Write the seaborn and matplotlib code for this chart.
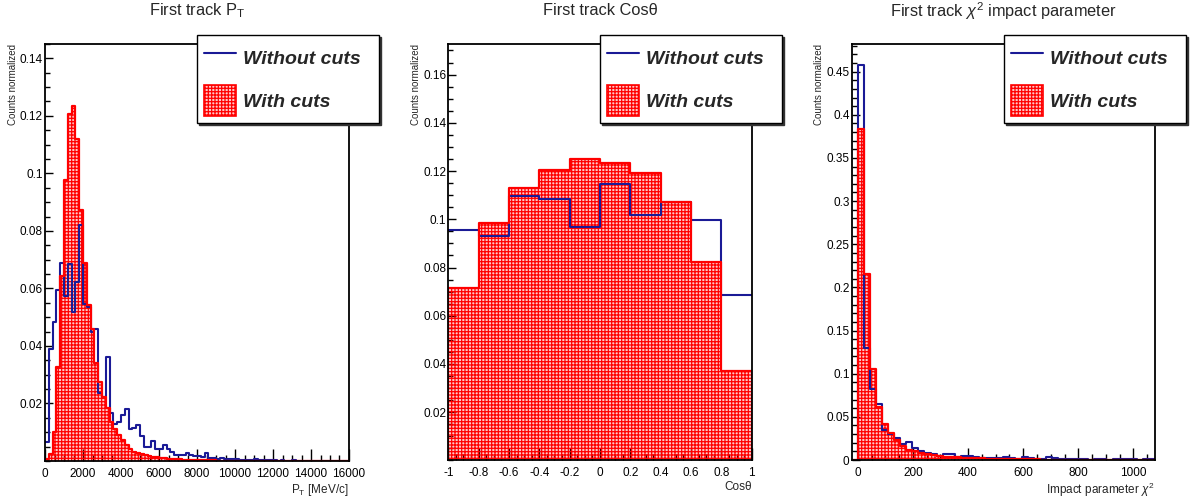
import numpy as np
import pandas as pd
import matplotlib
matplotlib.use("Agg")
import matplotlib.pyplot as plt
from matplotlib.lines import Line2D
from matplotlib.patches import Patch
from matplotlib.ticker import MultipleLocator
import seaborn as sns

# ---------------- data ----------------
pt_edges = np.arange(0, 16001, 200)
pt_without = [
    0.0067, 0.0388, 0.0482, 0.0594, 0.0687, 0.0573, 0.0684, 0.0519, 0.0621, 0.0819,
    0.0546, 0.0536, 0.0449, 0.0460, 0.0237, 0.0221, 0.0362, 0.0165, 0.0128, 0.0136,
    0.0160, 0.0179, 0.0110, 0.0116, 0.0125, 0.0087, 0.0047, 0.0047, 0.0070, 0.0042,
    0.0040, 0.0055, 0.0042, 0.0032, 0.0022, 0.0020, 0.0020, 0.0027, 0.0020, 0.0018,
    0.0016, 0.0015, 0.0026, 0.0010, 0.0009, 0.0008, 0.0011, 0.0006, 0.0005, 0.0005,
    0.0007, 0.0004, 0.0004, 0.0003, 0.0004, 0.0005, 0.0003, 0.0002, 0.0002, 0.0003,
    0.0002, 0.0001, 0.0002, 0.0001, 0.0001, 0.0002, 0.0001, 0.0001, 0.0001, 0.0001,
    0.0001, 0.0001, 0.0001, 0.0000, 0.0001, 0.0000, 0.0001, 0.0000, 0.0000, 0.0000,
]
pt_with = [
    0.0005, 0.0025, 0.0099, 0.0327, 0.0643, 0.0976, 0.1208, 0.1233, 0.1118, 0.0874,
    0.0687, 0.0541, 0.0460, 0.0339, 0.0275, 0.0223, 0.0183, 0.0136, 0.0110, 0.0090,
    0.0073, 0.0055, 0.0041, 0.0032, 0.0028, 0.0024, 0.0020, 0.0017, 0.0015, 0.0012,
    0.0010, 0.0009, 0.0008, 0.0007, 0.0006, 0.0005, 0.0004, 0.0004, 0.0003, 0.0003,
    0.0003, 0.0002, 0.0002, 0.0002, 0.0002, 0.0001, 0.0001, 0.0001, 0.0001, 0.0001,
    0.0001, 0.0001, 0.0001, 0.0001, 0.0000, 0.0001, 0.0000, 0.0000, 0.0000, 0.0000,
    0.0000, 0.0000, 0.0000, 0.0000, 0.0000, 0.0000, 0.0000, 0.0000, 0.0000, 0.0000,
    0.0000, 0.0000, 0.0000, 0.0000, 0.0000, 0.0000, 0.0000, 0.0000, 0.0000, 0.0000,
]

cos_edges = np.linspace(-1, 1, 11)
cos_without = [0.0955, 0.0932, 0.1097, 0.1084, 0.0969, 0.1147, 0.1019, 0.1073, 0.0999, 0.0687]
cos_with = [0.0716, 0.0985, 0.1129, 0.1204, 0.1249, 0.1233, 0.1193, 0.1073, 0.0824, 0.0370]

ip_edges = np.arange(-22, 1079, 22)
ip_without = [
    0.0, 0.458, 0.130, 0.082, 0.065, 0.035, 0.030, 0.026, 0.019, 0.021,
    0.014, 0.011, 0.0085, 0.0070, 0.0050, 0.0068, 0.0068, 0.0040, 0.0050, 0.0045,
    0.0030, 0.0025, 0.0025, 0.0020, 0.0022, 0.0030, 0.0018, 0.0015, 0.0030, 0.0025,
    0.0012, 0.0012, 0.0040, 0.0020, 0.0010, 0.0008, 0.0010, 0.0012, 0.0008, 0.0006,
    0.0012, 0.0010, 0.0006, 0.0008, 0.0008, 0.0012, 0.0010, 0.0006, 0.0008, 0.0010,
]
ip_with = [
    0.0, 0.383, 0.215, 0.105, 0.062, 0.042, 0.031, 0.023, 0.016, 0.012,
    0.0100, 0.0080, 0.0065, 0.0058, 0.0046, 0.0040, 0.0039, 0.0030, 0.0026, 0.0022,
    0.0020, 0.0018, 0.0015, 0.0014, 0.0012, 0.0011, 0.0010, 0.0009, 0.0008, 0.0008,
    0.0007, 0.0006, 0.0006, 0.0005, 0.0005, 0.0005, 0.0004, 0.0004, 0.0004, 0.0004,
    0.0003, 0.0003, 0.0003, 0.0003, 0.0003, 0.0003, 0.0003, 0.0003, 0.0003, 0.0003,
]

titles = [r"First track P$_\mathrm{T}$", "First track Cosθ",
          r"First track $\chi^{2}$ impact parameter"]
xlabels = [r"P$_\mathrm{T}$ [MeV/c]", "Cosθ", r"Impact parameter $\chi^{2}$"]
ylabel = "Counts normalized"
legend_labels = ["Without cuts", "With cuts"]

pt_xticks = [0, 2000, 4000, 6000, 8000, 10000, 12000, 14000, 16000]
pt_xticklabels = ["0", "2000", "4000", "6000", "8000", "10000", "12000", "14000", "16000"]
pt_yticks = [0.02, 0.04, 0.06, 0.08, 0.10, 0.12, 0.14]
pt_yticklabels = ["0.02", "0.04", "0.06", "0.08", "0.1", "0.12", "0.14"]

cos_xticks = [-1, -0.8, -0.6, -0.4, -0.2, 0, 0.2, 0.4, 0.6, 0.8, 1]
cos_xticklabels = ["-1", "-0.8", "-0.6", "-0.4", "-0.2", "0", "0.2", "0.4", "0.6", "0.8", "1"]
cos_yticks = [0.02, 0.04, 0.06, 0.08, 0.10, 0.12, 0.14, 0.16]
cos_yticklabels = ["0.02", "0.04", "0.06", "0.08", "0.1", "0.12", "0.14", "0.16"]

ip_xticks = [0, 200, 400, 600, 800, 1000]
ip_xticklabels = ["0", "200", "400", "600", "800", "1000"]
ip_yticks = [0, 0.05, 0.10, 0.15, 0.20, 0.25, 0.30, 0.35, 0.40, 0.45]
ip_yticklabels = ["0", "0.05", "0.1", "0.15", "0.2", "0.25", "0.3", "0.35", "0.4", "0.45"]

# ---------------- style ----------------
sns.set_style("white")
plt.rcParams["font.family"] = ["Liberation Sans", "DejaVu Sans"]
plt.rcParams["mathtext.fontset"] = "custom"
plt.rcParams["mathtext.rm"] = "Liberation Sans"
plt.rcParams["mathtext.it"] = "Liberation Sans:italic"
plt.rcParams["hatch.linewidth"] = 0.9
plt.rcParams["hatch.color"] = "red"

BLUE = "#1a1a96"
RED = "#ff0000"
HATCH = "+++++"
PINK_FACE = (1.0, 0.0, 0.0, 0.22)

fig = plt.figure(figsize=(11.95, 5.01), dpi=100)

panels = [
    dict(rect=[0.03766, 0.0800, 0.25439, 0.8322], edges=pt_edges, wo=pt_without, w=pt_with,
         xlim=(0, 16000), ylim=(0, 0.145), xt=pt_xticks, xtl=pt_xticklabels,
         yt=pt_yticks, ytl=pt_yticklabels, xminor=500, yminor=0.005, legx=0.1649),
    dict(rect=[0.37515, 0.0810, 0.25389, 0.8312], edges=cos_edges, wo=cos_without, w=cos_with,
         xlim=(-1, 1), ylim=(0, 0.1727), xt=cos_xticks, xtl=cos_xticklabels,
         yt=cos_yticks, ytl=cos_yticklabels, xminor=0.05, yminor=0.005, legx=0.5021),
    dict(rect=[0.71272, 0.0818, 0.25381, 0.8303], edges=ip_edges, wo=ip_without, w=ip_with,
         xlim=(-22, 1078), ylim=(0, 0.482), xt=ip_xticks, xtl=ip_xticklabels,
         yt=ip_yticks, ytl=ip_yticklabels, xminor=50, yminor=0.01, legx=0.8402),
]

for i, p in enumerate(panels):
    ax = fig.add_axes(p["rect"])
    edges = [float(e) for e in p["edges"]]
    centers = [(a + b) / 2 for a, b in zip(edges[:-1], edges[1:])]
    df = pd.DataFrame({"x": centers, "without": p["wo"], "with": p["w"]})

    sns.histplot(data=df, x="x", weights="without", bins=edges, element="step", fill=False,
                 color=BLUE, linewidth=1.5, ax=ax)
    n_before = len(ax.collections)
    sns.histplot(data=df, x="x", weights="with", bins=edges, element="step", fill=True,
                 color=RED, alpha=1, linewidth=0, ax=ax)
    for coll in ax.collections[n_before:]:
        coll.set_facecolor(PINK_FACE)
        coll.set_edgecolor(RED)
        coll.set_linewidth(0)
        coll.set_hatch(HATCH)
    sns.histplot(data=df, x="x", weights="with", bins=edges, element="step", fill=False,
                 color=RED, linewidth=1.6, ax=ax)

    ax.set_xlim(*p["xlim"])
    ax.set_ylim(*p["ylim"])
    ax.set_xticks(p["xt"], p["xtl"])
    ax.set_yticks(p["yt"], p["ytl"])
    ax.xaxis.set_minor_locator(MultipleLocator(p["xminor"]))
    ax.yaxis.set_minor_locator(MultipleLocator(p["yminor"]))
    ax.tick_params(axis="both", which="both", direction="in", top=False, right=False,
                   bottom=True, left=True, labelsize=8.5, colors="black")
    ax.tick_params(axis="x", which="major", length=8.5, width=1, pad=5)
    ax.tick_params(axis="x", which="minor", length=4.3, width=1)
    ax.tick_params(axis="y", which="major", length=6, width=1, pad=1.5)
    ax.tick_params(axis="y", which="minor", length=3.5, width=1)
    for s in ax.spines.values():
        s.set_linewidth(1.3)
        s.set_color("black")

    ax.text(0.5, 1 + 33 / 416, titles[i], transform=ax.transAxes, ha="center",
            va="center", fontsize=11.8)
    ax.set_ylabel(ylabel, fontsize=7, loc="top")
    ax.yaxis.set_label_coords(-0.09, 1.0)
    ax.set_xlabel(xlabels[i], fontsize=8.5, loc="right")
    ax.xaxis.set_label_coords(1.0, -0.05)

    handles = [Line2D([], [], color=BLUE, lw=1.5),
               Patch(facecolor=PINK_FACE, edgecolor=RED, hatch=HATCH, lw=1.2)]
    leg = ax.legend(handles, legend_labels, loc="upper left",
                    bbox_to_anchor=(p["legx"], 0.7545, 0.1523, 0.1756),
                    bbox_transform=fig.transFigure, mode="expand", borderaxespad=0,
                    prop=dict(family="Liberation Sans", weight="bold", style="italic", size=14),
                    handlelength=1.65, handleheight=2.07, handletextpad=0.36,
                    borderpad=0.36, labelspacing=0.62, frameon=True, fancybox=False,
                    edgecolor="black", framealpha=1,
                    shadow={"ox": 1.5, "oy": -1.5, "color": "#333333", "alpha": 1})
    leg.get_frame().set_linewidth(1.0)

fig.savefig("out.png", dpi=100)
